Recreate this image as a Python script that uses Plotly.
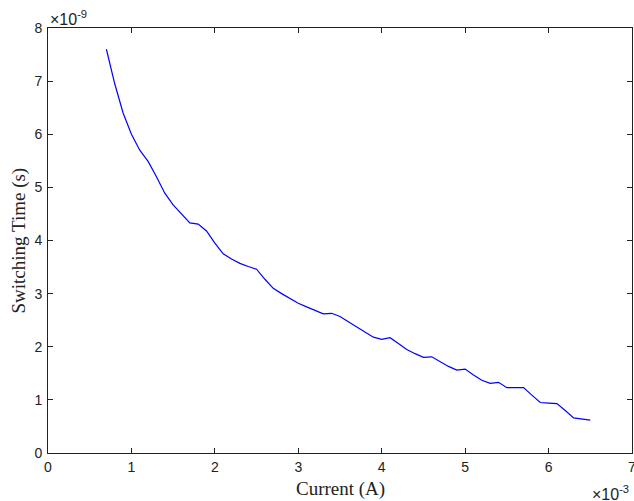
import plotly.graph_objects as go

current_mA = [0.7, 0.8, 0.9, 1.0, 1.1, 1.2, 1.3, 1.4, 1.5, 1.6, 1.7, 1.8, 1.9, 2.0,
              2.1, 2.2, 2.3, 2.4, 2.5, 2.6, 2.7, 2.8, 2.9, 3.0, 3.1, 3.2, 3.3, 3.4,
              3.5, 3.6, 3.7, 3.8, 3.9, 4.0, 4.1, 4.2, 4.3, 4.4, 4.5, 4.6, 4.7, 4.8,
              4.9, 5.0, 5.1, 5.2, 5.3, 5.4, 5.5, 5.6, 5.7, 5.8, 5.9, 6.0, 6.1, 6.2,
              6.3, 6.5]
switch_ns = [7.6, 6.95, 6.4, 6.0, 5.7, 5.49, 5.2, 4.89, 4.67, 4.5, 4.33, 4.31, 4.18, 3.95,
             3.75, 3.65, 3.57, 3.51, 3.46, 3.27, 3.1, 3.0, 2.91, 2.82, 2.75, 2.69, 2.62, 2.63,
             2.57, 2.47, 2.37, 2.27, 2.18, 2.14, 2.17, 2.06, 1.95, 1.87, 1.8, 1.81, 1.72, 1.63,
             1.56, 1.58, 1.47, 1.37, 1.31, 1.33, 1.23, 1.23, 1.23, 1.09, 0.95, 0.94, 0.93, 0.8,
             0.66, 0.62]
x_ticks = [0, 1, 2, 3, 4, 5, 6, 7]
y_ticks = [0, 1, 2, 3, 4, 5, 6, 7, 8]

fig = go.Figure()
fig.add_trace(go.Scatter(x=current_mA, y=switch_ns, mode="lines",
                         line=dict(color="#0000ff", width=1.2), showlegend=False))

sans = "Liberation Sans, Arial, sans-serif"
serif = "Liberation Serif, Times New Roman, serif"
tickfont = dict(family=sans, size=14, color="#222")
axis_common = dict(showgrid=False, zeroline=False, showline=True, linecolor="#222",
                   linewidth=1, mirror="ticks", ticks="inside", ticklen=5,
                   tickcolor="#222", tickfont=tickfont, automargin=False,
                   ticklabeloverflow="allow")
fig.update_xaxes(range=[0, 7], tickvals=x_ticks, ticktext=[str(v) for v in x_ticks],
                 ticklabelstandoff=1, **axis_common)
fig.update_yaxes(range=[0, 8], tickvals=y_ticks, ticktext=[str(v) for v in y_ticks],
                 ticklabelstandoff=2, **axis_common)

# axis titles
fig.add_annotation(xref="paper", yref="paper", x=0.5, y=0, xanchor="center", yanchor="middle",
                   yshift=-36, text="Current (A)", showarrow=False,
                   font=dict(family=serif, size=19, color="#222"))
fig.add_annotation(xref="paper", yref="paper", x=0, y=0.5, xanchor="center", yanchor="middle",
                   xshift=-30, textangle=-90, text="Switching Time (s)", showarrow=False,
                   font=dict(family=serif, size=19, color="#222"))

# exponent labels
fig.add_annotation(xref="paper", yref="paper", x=0.0, y=1.0, xanchor="left", yanchor="bottom",
                   text="×10<sup>-9</sup>", showarrow=False,
                   font=dict(family=sans, size=16, color="#222"), xshift=0, yshift=-2)
fig.add_annotation(xref="paper", yref="paper", x=0.928, y=0.0, xanchor="left", yanchor="middle",
                   text="×10<sup>-3</sup>", showarrow=False,
                   font=dict(family=sans, size=16, color="#222"), yshift=-40)

fig.update_layout(width=634, height=501, margin=dict(l=48, r=2, t=28, b=48),
                  plot_bgcolor="white", paper_bgcolor="white")

fix_page = (
    "document.body.style.margin='0px';"
    "document.body.style.overflow='hidden';"
    "var gd=document.getElementById('{plot_id}');"
    "gd.style.width='634px';gd.style.height='501px';"
    "Plotly.relayout(gd,{width:634,height:501});"
)
fig.write_html("out.html", post_script=fix_page,
               config={"responsive": False, "displayModeBar": False})
